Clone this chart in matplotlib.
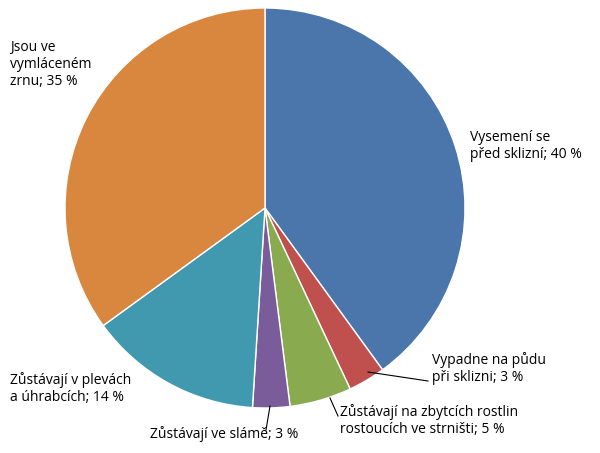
import matplotlib
matplotlib.use("Agg")
import matplotlib.pyplot as plt

labels = ["Vysemení se\npřed sklizní; 40 %",
          "Vypadne na půdu\npři sklizni; 3 %",
          "Zůstávají na zbytcích rostlin\nrostoucích ve strništi; 5 %",
          "Zůstávají ve slámě; 3 %",
          "Zůstávají v plevách\na úhrabcích; 14 %",
          "Jsou ve\nvymláceném\nzrnu; 35 %"]
values = [40, 3, 5, 3, 14, 35]
colors = ["#4a76ab", "#c0504d", "#8aaa4f", "#7b5c9a", "#4199b0", "#d9863e"]

W, H = 600, 453
fig = plt.figure(figsize=(6, 4.53), dpi=100)
ax = fig.add_axes([65 / W, (H - 208 - 200) / H, 400 / W, 400 / H])
ax.pie(values, colors=colors, startangle=90, counterclock=False, radius=1,
       wedgeprops=dict(edgecolor="white", linewidth=1))
ax.set_xlim(-1, 1)
ax.set_ylim(-1, 1)
ax.set_aspect("equal")

def fx(x):
    return x / W

def fy(y):
    return 1 - y / H

# label positions (pixel coords, top-left of text)
label_pos = [(470, 130), (432, 352), (340, 404), (150, 426), (10, 372), (10, 40)]
for txt, (x, y) in zip(labels, label_pos):
    fig.text(fx(x), fy(y), txt, fontsize=10, family="Open Sans",
             va="top", ha="left", linespacing=1.2)

# leader lines for small slices
leaders = [((368, 372), (428, 381)), ((330, 398), (338, 416)), ((270, 406), (266, 430))]
for (x0, y0), (x1, y1) in leaders:
    fig.add_artist(plt.Line2D([fx(x0), fx(x1)], [fy(y0), fy(y1)], color="black", lw=0.8))

fig.savefig("out.png", dpi=100)
